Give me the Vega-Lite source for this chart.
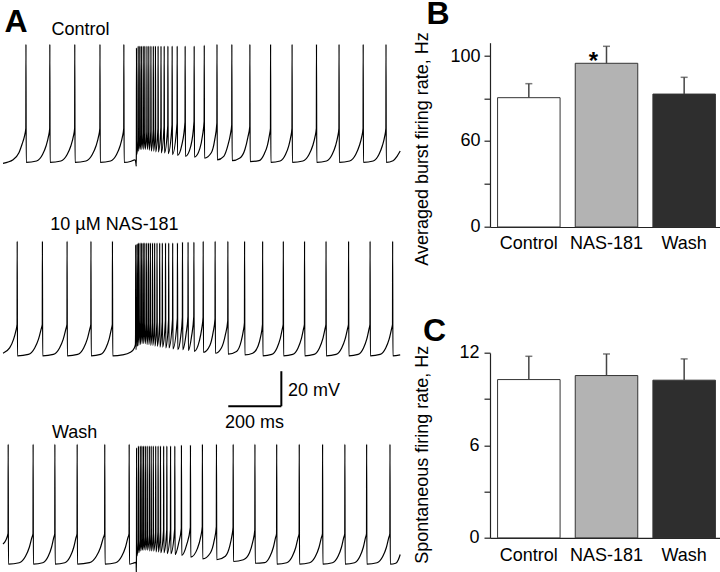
{
"$schema":"https://vega.github.io/schema/vega-lite/v6.json",
"padding":{"top":-2.3,"left":0,"right":0,"bottom":0},
"background":"white",
"config":{
 "font":"Liberation Sans",
 "view":{"stroke":null},
 "title":{"font":"Liberation Sans","color":"black"},
 "axis":{"labelFont":"Liberation Sans","titleFont":"Liberation Sans","labelColor":"black","titleColor":"black","domainColor":"#222","tickColor":"#222","labelFontSize":18,"titleFontSize":18,"titleFontWeight":"normal","grid":false,"domainWidth":1.2,"tickWidth":1.2},
 "text":{"font":"Liberation Sans"}
},
"datasets":{
"ctrl":[{"t":0,"v":-48},{"t":38,"v":-46},{"t":60,"v":-42},{"t":72,"v":-37},{"t":80,"v":-33},{"t":86,"v":-28},
{"t":86.5,"v":20},{"t":87.5,"v":-47.5},{"t":126.5,"v":-46.7},{"t":149,"v":-43},{"t":162.5,"v":-38},{"t":171.5,"v":-32.5},{"t":176,"v":-28},
{"t":176.5,"v":20},{"t":177.5,"v":-47.5},{"t":218.3,"v":-46.7},{"t":241.8,"v":-43},{"t":255.9,"v":-38},{"t":265.3,"v":-32.5},{"t":270,"v":-28},
{"t":270.5,"v":20},{"t":271.5,"v":-47.5},{"t":312.8,"v":-46.7},{"t":336.5,"v":-43},{"t":350.8,"v":-38},{"t":360.3,"v":-32.5},{"t":365,"v":-28},
{"t":365.5,"v":20},{"t":366.5,"v":-47.5},{"t":405.5,"v":-46.7},{"t":428,"v":-43},{"t":441.5,"v":-38},{"t":450.5,"v":-32.5},{"t":455,"v":-28},
{"t":455.5,"v":20},{"t":456.5,"v":-47.5},{"t":480,"v":-47},{"t":497,"v":-46},{"t":501,"v":-48},{"t":502,"v":-49.6},
{"t":502.6,"v":-42},{"t":503.1,"v":18},{"t":504,"v":-43},
{"t":509,"v":-35},{"t":509.5,"v":19},{"t":510.5,"v":-41},
{"t":515,"v":-33},{"t":515.5,"v":19},{"t":516.5,"v":-40},
{"t":521,"v":-32},{"t":521.5,"v":19},{"t":522.5,"v":-40},
{"t":528,"v":-31},{"t":528.5,"v":19},{"t":529.5,"v":-40},
{"t":534,"v":-31},{"t":534.5,"v":19},{"t":535.5,"v":-40},
{"t":542,"v":-30},{"t":542.5,"v":19},{"t":543.5,"v":-40},
{"t":549,"v":-30},{"t":549.5,"v":19},{"t":550.5,"v":-40.5},
{"t":557,"v":-29.5},{"t":557.5,"v":19},{"t":558.5,"v":-41},
{"t":566,"v":-29},{"t":566.5,"v":19},{"t":567.5,"v":-41},
{"t":574,"v":-28.5},{"t":574.5,"v":19},{"t":575.5,"v":-41.5},
{"t":584,"v":-28},{"t":584.5,"v":19},{"t":585.5,"v":-41.5},
{"t":595,"v":-27.5},{"t":595.5,"v":19},{"t":596.5,"v":-42},
{"t":607,"v":-27},{"t":607.5,"v":19},{"t":608.5,"v":-42},
{"t":621,"v":-26.5},{"t":621.5,"v":19},{"t":622.5,"v":-42.5},
{"t":637,"v":-26},{"t":637.5,"v":19},{"t":638.5,"v":-43},
{"t":656,"v":-25},{"t":656.5,"v":19},{"t":657.5,"v":-43.5},
{"t":674,"v":-37.5},{"t":686,"v":-24.5},{"t":686.5,"v":19},{"t":687.5,"v":-44},
{"t":708,"v":-38},{"t":720,"v":-24},{"t":720.5,"v":19},{"t":721.5,"v":-44.5},
{"t":742,"v":-39.5},{"t":752,"v":-32},{"t":758,"v":-24},{"t":758.5,"v":19.5},{"t":759.5,"v":-45},
{"t":785,"v":-42},{"t":798,"v":-34.5},{"t":806,"v":-25},{"t":806.5,"v":20},{"t":807.5,"v":-46},
{"t":832,"v":-44},{"t":848,"v":-37.5},{"t":857,"v":-31.5},{"t":862,"v":-26},{"t":862.5,"v":20},{"t":863.5,"v":-46.5},
{"t":893,"v":-45},{"t":912,"v":-40},{"t":923,"v":-33},{"t":930,"v":-27},{"t":930.5,"v":20},{"t":931.5,"v":-47},
{"t":965,"v":-46.5},{"t":985,"v":-42.5},{"t":997,"v":-37.5},{"t":1004,"v":-32},{"t":1008,"v":-28},
{"t":1008.5,"v":20},{"t":1009.5,"v":-47.5},{"t":1044.5,"v":-46.7},{"t":1064.7,"v":-43},{"t":1076.9,"v":-38},{"t":1085,"v":-32.5},{"t":1089,"v":-28},
{"t":1089.5,"v":20},{"t":1090.5,"v":-47.5},{"t":1130.4,"v":-46.7},{"t":1153.4,"v":-43},{"t":1167.2,"v":-38},{"t":1176.4,"v":-32.5},{"t":1181,"v":-28},
{"t":1181.5,"v":20},{"t":1182.5,"v":-47.5},{"t":1219.3,"v":-46.7},{"t":1240.5,"v":-43},{"t":1253.3,"v":-38},{"t":1261.8,"v":-32.5},{"t":1266,"v":-28},
{"t":1266.5,"v":20},{"t":1267.5,"v":-47.5},{"t":1306.5,"v":-46.7},{"t":1329.3,"v":-43},{"t":1342.9,"v":-38},{"t":1352.5,"v":-32.5},{"t":1357,"v":-28},
{"t":1357.5,"v":20},{"t":1358.5,"v":-47.5},{"t":1395.3,"v":-46.7},{"t":1416.8,"v":-43},{"t":1429.7,"v":-38},{"t":1438.7,"v":-32.5},{"t":1443,"v":-28},
{"t":1443.5,"v":20},{"t":1444.5,"v":-47.5},{"t":1470,"v":-46.5},{"t":1485,"v":-44},{"t":1497,"v":-41}],
"nas":[{"t":0,"v":-44},{"t":25,"v":-41},{"t":40,"v":-36},{"t":48,"v":-31.5},{"t":53,"v":-27.5},
{"t":53.5,"v":20},{"t":54.5,"v":-45.5},{"t":95.8,"v":-44.7},{"t":119.5,"v":-41},{"t":133.8,"v":-36},{"t":143.3,"v":-30.5},{"t":148,"v":-27.5},
{"t":148.5,"v":20},{"t":149.5,"v":-45.5},{"t":189.9,"v":-44.7},{"t":213.1,"v":-41},{"t":227.1,"v":-36},{"t":236.4,"v":-30.5},{"t":241,"v":-27.5},
{"t":241.5,"v":20},{"t":242.5,"v":-45.5},{"t":281.5,"v":-44.7},{"t":304,"v":-41},{"t":317.5,"v":-36},{"t":326.5,"v":-30.5},{"t":331,"v":-27.5},
{"t":331.5,"v":20},{"t":332.5,"v":-45.5},{"t":367.5,"v":-44.7},{"t":387.7,"v":-41},{"t":399.9,"v":-36},{"t":408,"v":-30.5},{"t":412,"v":-27.5},
{"t":412.5,"v":20},{"t":413.5,"v":-45.5},{"t":450,"v":-45},{"t":480,"v":-43.5},{"t":495,"v":-41},{"t":499,"v":-39},
{"t":499.6,"v":-33},{"t":500.1,"v":18},{"t":501,"v":-42},
{"t":505,"v":-27},{"t":505.5,"v":18.5},{"t":506.5,"v":-40},
{"t":510,"v":-25},{"t":510.5,"v":19},{"t":511.5,"v":-39.5},
{"t":516,"v":-25},{"t":516.5,"v":19},{"t":517.5,"v":-39},
{"t":522,"v":-26},{"t":522.5,"v":19},{"t":523.5,"v":-38.5},
{"t":528,"v":-26},{"t":528.5,"v":19},{"t":529.5,"v":-38.5},
{"t":534,"v":-26.5},{"t":534.5,"v":19},{"t":535.5,"v":-38.5},
{"t":541,"v":-27},{"t":541.5,"v":19},{"t":542.5,"v":-39},
{"t":548,"v":-27},{"t":548.5,"v":19},{"t":549.5,"v":-39},
{"t":555,"v":-27},{"t":555.5,"v":19},{"t":556.5,"v":-39.5},
{"t":563,"v":-27},{"t":563.5,"v":19},{"t":564.5,"v":-39.5},
{"t":571,"v":-26.5},{"t":571.5,"v":19},{"t":572.5,"v":-40},
{"t":580,"v":-26.5},{"t":580.5,"v":19},{"t":581.5,"v":-40},
{"t":590,"v":-26},{"t":590.5,"v":19},{"t":591.5,"v":-40.5},
{"t":600,"v":-26},{"t":600.5,"v":19},{"t":601.5,"v":-40.5},
{"t":612,"v":-25.5},{"t":612.5,"v":19},{"t":613.5,"v":-41},
{"t":624,"v":-25},{"t":624.5,"v":19},{"t":625.5,"v":-41},
{"t":639,"v":-24.5},{"t":639.5,"v":19},{"t":640.5,"v":-41.5},
{"t":657,"v":-24},{"t":657.5,"v":19},{"t":658.5,"v":-42},
{"t":670,"v":-34},{"t":676,"v":-23.5},{"t":676.5,"v":19.5},{"t":677.5,"v":-42},
{"t":690,"v":-33},{"t":697,"v":-23},{"t":697.5,"v":19.5},{"t":698.5,"v":-42.5},
{"t":711,"v":-34},{"t":719,"v":-23},{"t":719.5,"v":19.5},{"t":720.5,"v":-43},
{"t":740,"v":-37},{"t":749,"v":-30},{"t":754,"v":-23.5},{"t":754.5,"v":20},{"t":755.5,"v":-43.5},
{"t":780,"v":-39.5},{"t":792,"v":-32},{"t":799,"v":-24.5},{"t":799.5,"v":20},{"t":800.5,"v":-44},
{"t":823,"v":-41},{"t":838,"v":-33.5},{"t":847,"v":-25.5},{"t":847.5,"v":20},{"t":848.5,"v":-44.5},
{"t":880,"v":-43},{"t":898,"v":-37},{"t":906,"v":-31},{"t":910,"v":-26.5},{"t":910.5,"v":20},{"t":911.5,"v":-45},
{"t":941,"v":-44},{"t":961,"v":-40},{"t":971,"v":-34.5},{"t":978,"v":-27.5},{"t":978.5,"v":20},{"t":979.5,"v":-45.5},
{"t":1013.1,"v":-44.7},{"t":1032.6,"v":-41},{"t":1044.3,"v":-36},{"t":1052.1,"v":-30.5},{"t":1056,"v":-27.5},
{"t":1056.5,"v":20},{"t":1057.5,"v":-45.5},{"t":1092,"v":-44.7},{"t":1112,"v":-41},{"t":1124,"v":-36},{"t":1132,"v":-30.5},{"t":1136,"v":-27.5},
{"t":1136.5,"v":20},{"t":1137.5,"v":-45.5},{"t":1172.5,"v":-44.7},{"t":1192.7,"v":-41},{"t":1204.9,"v":-36},{"t":1213,"v":-30.5},{"t":1217,"v":-27.5},
{"t":1217.5,"v":20},{"t":1218.5,"v":-45.5},{"t":1255.3,"v":-44.7},{"t":1276.5,"v":-41},{"t":1289.3,"v":-36},{"t":1297.8,"v":-30.5},{"t":1302,"v":-27.5},
{"t":1302.5,"v":20},{"t":1303.5,"v":-45.5},{"t":1338.5,"v":-44.7},{"t":1358.7,"v":-41},{"t":1370.9,"v":-36},{"t":1379,"v":-30.5},{"t":1383,"v":-27.5},
{"t":1383.5,"v":20},{"t":1384.5,"v":-45.5},{"t":1421.3,"v":-44.7},{"t":1442.5,"v":-41},{"t":1455.3,"v":-36},{"t":1463.8,"v":-30.5},{"t":1468,"v":-27.5},
{"t":1468.5,"v":20},{"t":1469.5,"v":-45.5},{"t":1497,"v":-45}],
"wash":[{"t":0,"v":-37},{"t":10,"v":-35},{"t":19,"v":-31},
{"t":19.5,"v":20},{"t":20.5,"v":-48.5},{"t":61.3,"v":-47.7},{"t":84.8,"v":-44},{"t":98.9,"v":-39},{"t":108.3,"v":-33.5},{"t":113,"v":-31},
{"t":113.5,"v":20},{"t":114.5,"v":-48.5},{"t":149.9,"v":-47.7},{"t":170.4,"v":-44},{"t":182.7,"v":-39},{"t":190.9,"v":-33.5},{"t":195,"v":-31},
{"t":195.5,"v":20},{"t":196.5,"v":-48.5},{"t":232.8,"v":-47.7},{"t":253.8,"v":-44},{"t":266.4,"v":-39},{"t":274.8,"v":-33.5},{"t":279,"v":-31},
{"t":279.5,"v":20},{"t":280.5,"v":-48.5},{"t":325.8,"v":-47.7},{"t":351.8,"v":-44},{"t":367.4,"v":-39},{"t":377.8,"v":-33.5},{"t":383,"v":-31},
{"t":383.5,"v":20},{"t":384.5,"v":-48.5},{"t":424.4,"v":-47.7},{"t":447.4,"v":-44},{"t":461.2,"v":-39},{"t":470.4,"v":-33.5},{"t":475,"v":-31},
{"t":475.5,"v":20},{"t":476.5,"v":-48.5},{"t":490,"v":-48},{"t":500,"v":-47.5},{"t":502,"v":-48.5},{"t":502.4,"v":-53.5},
{"t":503,"v":-44},{"t":503.4,"v":18},{"t":504.5,"v":-44},
{"t":510,"v":-36},{"t":510.5,"v":19},{"t":511.5,"v":-42},
{"t":517,"v":-35},{"t":517.5,"v":19},{"t":518.5,"v":-41},
{"t":523,"v":-34.5},{"t":523.5,"v":19},{"t":524.5,"v":-40.5},
{"t":529,"v":-34},{"t":529.5,"v":19},{"t":530.5,"v":-40.5},
{"t":536,"v":-33},{"t":536.5,"v":19},{"t":537.5,"v":-40.5},
{"t":543,"v":-32.5},{"t":543.5,"v":19},{"t":544.5,"v":-40.5},
{"t":551,"v":-32},{"t":551.5,"v":19},{"t":552.5,"v":-41},
{"t":558,"v":-31.5},{"t":558.5,"v":19},{"t":559.5,"v":-41},
{"t":566,"v":-31},{"t":566.5,"v":19},{"t":567.5,"v":-41},
{"t":575,"v":-30.5},{"t":575.5,"v":19},{"t":576.5,"v":-41.5},
{"t":584,"v":-30},{"t":584.5,"v":19},{"t":585.5,"v":-41.5},
{"t":593,"v":-30},{"t":593.5,"v":19},{"t":594.5,"v":-42},
{"t":605,"v":-29.5},{"t":605.5,"v":19},{"t":606.5,"v":-42},
{"t":617,"v":-29},{"t":617.5,"v":19},{"t":618.5,"v":-42.5},
{"t":631,"v":-29},{"t":631.5,"v":19},{"t":632.5,"v":-42.5},
{"t":647,"v":-28.5},{"t":647.5,"v":19},{"t":648.5,"v":-43},
{"t":662,"v":-36.5},{"t":672,"v":-28},{"t":672.5,"v":19.5},{"t":673.5,"v":-43.5},
{"t":692,"v":-37.5},{"t":706,"v":-27.5},{"t":706.5,"v":19.5},{"t":707.5,"v":-44.5},
{"t":733,"v":-39.5},{"t":745,"v":-33},{"t":751,"v":-27},{"t":751.5,"v":20},{"t":752.5,"v":-45.5},
{"t":782,"v":-42},{"t":796,"v":-35},{"t":804,"v":-27},{"t":804.5,"v":20},{"t":805.5,"v":-46},
{"t":838,"v":-44},{"t":855,"v":-38},{"t":863,"v":-32},{"t":867,"v":-27.5},{"t":867.5,"v":20},{"t":868.5,"v":-47},
{"t":906,"v":-46},{"t":929,"v":-42},{"t":941,"v":-36},{"t":949,"v":-29},{"t":949.5,"v":20},{"t":950.5,"v":-48},
{"t":985.9,"v":-47.7},{"t":1006.4,"v":-44},{"t":1018.7,"v":-39},{"t":1026.9,"v":-33.5},{"t":1031,"v":-31},
{"t":1031.5,"v":20},{"t":1032.5,"v":-48.5},{"t":1069.3,"v":-47.7},{"t":1090.5,"v":-44},{"t":1103.3,"v":-39},{"t":1111.8,"v":-33.5},{"t":1116,"v":-31},
{"t":1116.5,"v":20},{"t":1117.5,"v":-48.5},{"t":1155.6,"v":-47.7},{"t":1177.6,"v":-44},{"t":1190.8,"v":-39},{"t":1199.6,"v":-33.5},{"t":1204,"v":-31},
{"t":1204.5,"v":20},{"t":1205.5,"v":-48.5},{"t":1241.8,"v":-47.7},{"t":1262.8,"v":-44},{"t":1275.4,"v":-39},{"t":1283.8,"v":-33.5},{"t":1288,"v":-31},
{"t":1288.5,"v":20},{"t":1289.5,"v":-48.5},{"t":1324.9,"v":-47.7},{"t":1345.4,"v":-44},{"t":1357.7,"v":-39},{"t":1365.9,"v":-33.5},{"t":1370,"v":-31},
{"t":1370.5,"v":20},{"t":1371.5,"v":-48.5},{"t":1409.6,"v":-47.7},{"t":1431.6,"v":-44},{"t":1444.8,"v":-39},{"t":1453.6,"v":-33.5},{"t":1458,"v":-31},
{"t":1458.5,"v":20},{"t":1459.5,"v":-48.5},{"t":1480,"v":-48},{"t":1490,"v":-46},{"t":1497,"v":-43}],
"sbar":[{"t1":849,"t2":1049,"v1":-74.3,"v2":-74.3},{"t1":1049,"t2":1049,"v1":-74.3,"v2":-54.3}],
"slab":[{"label":"20 mV","t":1074,"v":-68.6},{"label":"200 ms","t":837,"v":-86.7}],
"burst":[{"cond":"Control","mean":80.4,"hi":87,"sig":""},{"cond":"NAS-181","mean":96.6,"hi":104.6,"sig":"*"},{"cond":"Wash","mean":82.1,"hi":90,"sig":""}],
"spont":[{"cond":"Control","mean":10.27,"hi":11.78},{"cond":"NAS-181","mean":10.53,"hi":11.93},{"cond":"Wash","mean":10.23,"hi":11.61}]
},
"title":{"text":"A","anchor":"start","frame":"group","fontSize":32,"fontWeight":"bold","baseline":"alphabetic","offset":0,"dx":1.5,"dy":66.3},
"bounds":"flush",
"columns":2,
"spacing":{"row":0,"column":89},
"concat":[
 {"width":398,"height":194.8,"data":{"name":"ctrl"},
  "title":{"text":"Control","anchor":"start","frame":"group","fontSize":18,"fontWeight":"normal","baseline":"alphabetic","offset":6.7,"dy":18,"dx":48.4},
  "mark":{"type":"line","interpolate":"monotone","color":"black","strokeWidth":1.2},
  "encoding":{"x":{"field":"t","type":"quantitative","scale":{"domain":[0,1500],"nice":false,"zero":false},"axis":null},
   "y":{"field":"v","type":"quantitative","scale":{"domain":[-90.4,20.9],"nice":false,"zero":false},"axis":null}}},
 {"width":233,"height":184.3,"data":{"name":"burst"},
  "title":{"text":"B","anchor":"start","frame":"group","fontSize":32,"fontWeight":"bold","baseline":"alphabetic","offset":7.5,"dy":32,"dx":-63.5},
  "encoding":{"x":{"field":"cond","type":"nominal","sort":null,"scale":{"paddingInner":0.195,"paddingOuter":0.0975},
    "axis":{"title":null,"labelAngle":0,"ticks":false,"labelPadding":8}},
   "y":{"field":"mean","type":"quantitative","scale":{"domain":[0,60,106.3],"range":[184.3,98.3,0],"nice":false,"zero":false},
    "axis":{"values":[0,30,60,80,100],"labelExpr":"(datum.value==30||datum.value==80)?'':datum.label","tickSize":6,"labelPadding":4,
     "title":"Averaged burst firing rate, Hz","titleX":-62,"titleY":105.8,"titleBaseline":"alphabetic"}}},
  "layer":[
   {"mark":{"type":"bar","stroke":"#333","strokeWidth":1},
    "encoding":{"fill":{"field":"cond","type":"nominal","scale":{"domain":["Control","NAS-181","Wash"],"range":["#ffffff","#b3b3b3","#2e2e2e"]},"legend":null}}},
   {"mark":{"type":"rule","color":"#444","strokeWidth":1.5},
    "encoding":{"y2":{"field":"hi"}}},
   {"mark":{"type":"tick","color":"#444","size":7,"thickness":1.5},
    "encoding":{"y":{"field":"hi","type":"quantitative",
     "axis":{"values":[0,30,60,80,100],"labelExpr":"(datum.value==30||datum.value==80)?'':datum.label","tickSize":6,"labelPadding":4,
     "title":"Averaged burst firing rate, Hz","titleX":-62,"titleY":105.8,"titleBaseline":"alphabetic"}}}},
   {"mark":{"type":"text","fontSize":24,"fontWeight":"bold","dx":-13,"dy":6,"baseline":"alphabetic","align":"center","color":"black"},
    "encoding":{"text":{"field":"sig"}}}
  ]},
 {"width":398,"height":203,
  "title":{"text":"10 µM NAS-181","anchor":"start","frame":"group","fontSize":18,"fontWeight":"normal","baseline":"alphabetic","offset":7.5,"dy":18,"dx":47.3},
  "encoding":{"x":{"field":"t","type":"quantitative","scale":{"domain":[0,1500],"nice":false,"zero":false},"axis":null},
   "y":{"field":"v","type":"quantitative","scale":{"domain":[-94,22],"nice":false,"zero":false},"axis":null}},
  "layer":[
   {"data":{"name":"nas"},"mark":{"type":"line","interpolate":"monotone","color":"black","strokeWidth":1.2}},
   {"data":{"name":"sbar"},"mark":{"type":"rule","color":"black","strokeWidth":2},
    "encoding":{"x":{"field":"t1","type":"quantitative"},"x2":{"field":"t2"},"y":{"field":"v1","type":"quantitative"},"y2":{"field":"v2"}}},
   {"data":{"name":"slab"},"mark":{"type":"text","fontSize":18,"align":"left","baseline":"alphabetic","color":"black"},
    "encoding":{"text":{"field":"label"}}}
  ]},
 {"width":233,"height":203,"data":{"name":"spont"},
  "title":{"text":"C","anchor":"start","frame":"group","fontSize":32,"fontWeight":"bold","baseline":"alphabetic","offset":0,"dy":135.5,"dx":-67},
  "encoding":{"x":{"field":"cond","type":"nominal","sort":null,"scale":{"paddingInner":0.195,"paddingOuter":0.0975},
    "axis":{"title":null,"labelAngle":0,"ticks":false,"labelPadding":9,"offset":97.2}},
   "y":{"field":"mean","type":"quantitative","scale":{"domain":[0,12],"range":[300.2,115.2],"nice":false,"zero":false},
    "axis":{"values":[0,3,6,9,12],"labelExpr":"(datum.value==3||datum.value==9)?'':datum.label","tickSize":6,"labelPadding":5,
     "title":"Spontaneous firing rate, Hz","titleX":-62,"titleY":216.5,"titleBaseline":"alphabetic"}}},
  "layer":[
   {"mark":{"type":"bar","stroke":"#333","strokeWidth":1},
    "encoding":{"fill":{"field":"cond","type":"nominal","scale":{"domain":["Control","NAS-181","Wash"],"range":["#ffffff","#b3b3b3","#2e2e2e"]},"legend":null}}},
   {"mark":{"type":"rule","color":"#444","strokeWidth":1.5},
    "encoding":{"y2":{"field":"hi"}}},
   {"mark":{"type":"tick","color":"#444","size":7,"thickness":1.5},
    "encoding":{"y":{"field":"hi","type":"quantitative",
     "axis":{"values":[0,3,6,9,12],"labelExpr":"(datum.value==3||datum.value==9)?'':datum.label","tickSize":6,"labelPadding":5,
     "title":"Spontaneous firing rate, Hz","titleX":-62,"titleY":216.5,"titleBaseline":"alphabetic"}}}}
  ]},
 {"width":398,"height":132,"data":{"name":"wash"},
  "title":{"text":"Wash","anchor":"start","frame":"group","fontSize":18,"fontWeight":"normal","baseline":"alphabetic","offset":2.8,"dy":18,"dx":49},
  "mark":{"type":"line","interpolate":"monotone","color":"black","strokeWidth":1.2},
  "encoding":{"x":{"field":"t","type":"quantitative","scale":{"domain":[0,1500],"nice":false,"zero":false},"axis":null},
   "y":{"field":"v","type":"quantitative","scale":{"domain":[-53.4,22],"nice":false,"zero":false},"axis":null}}}
]
}
